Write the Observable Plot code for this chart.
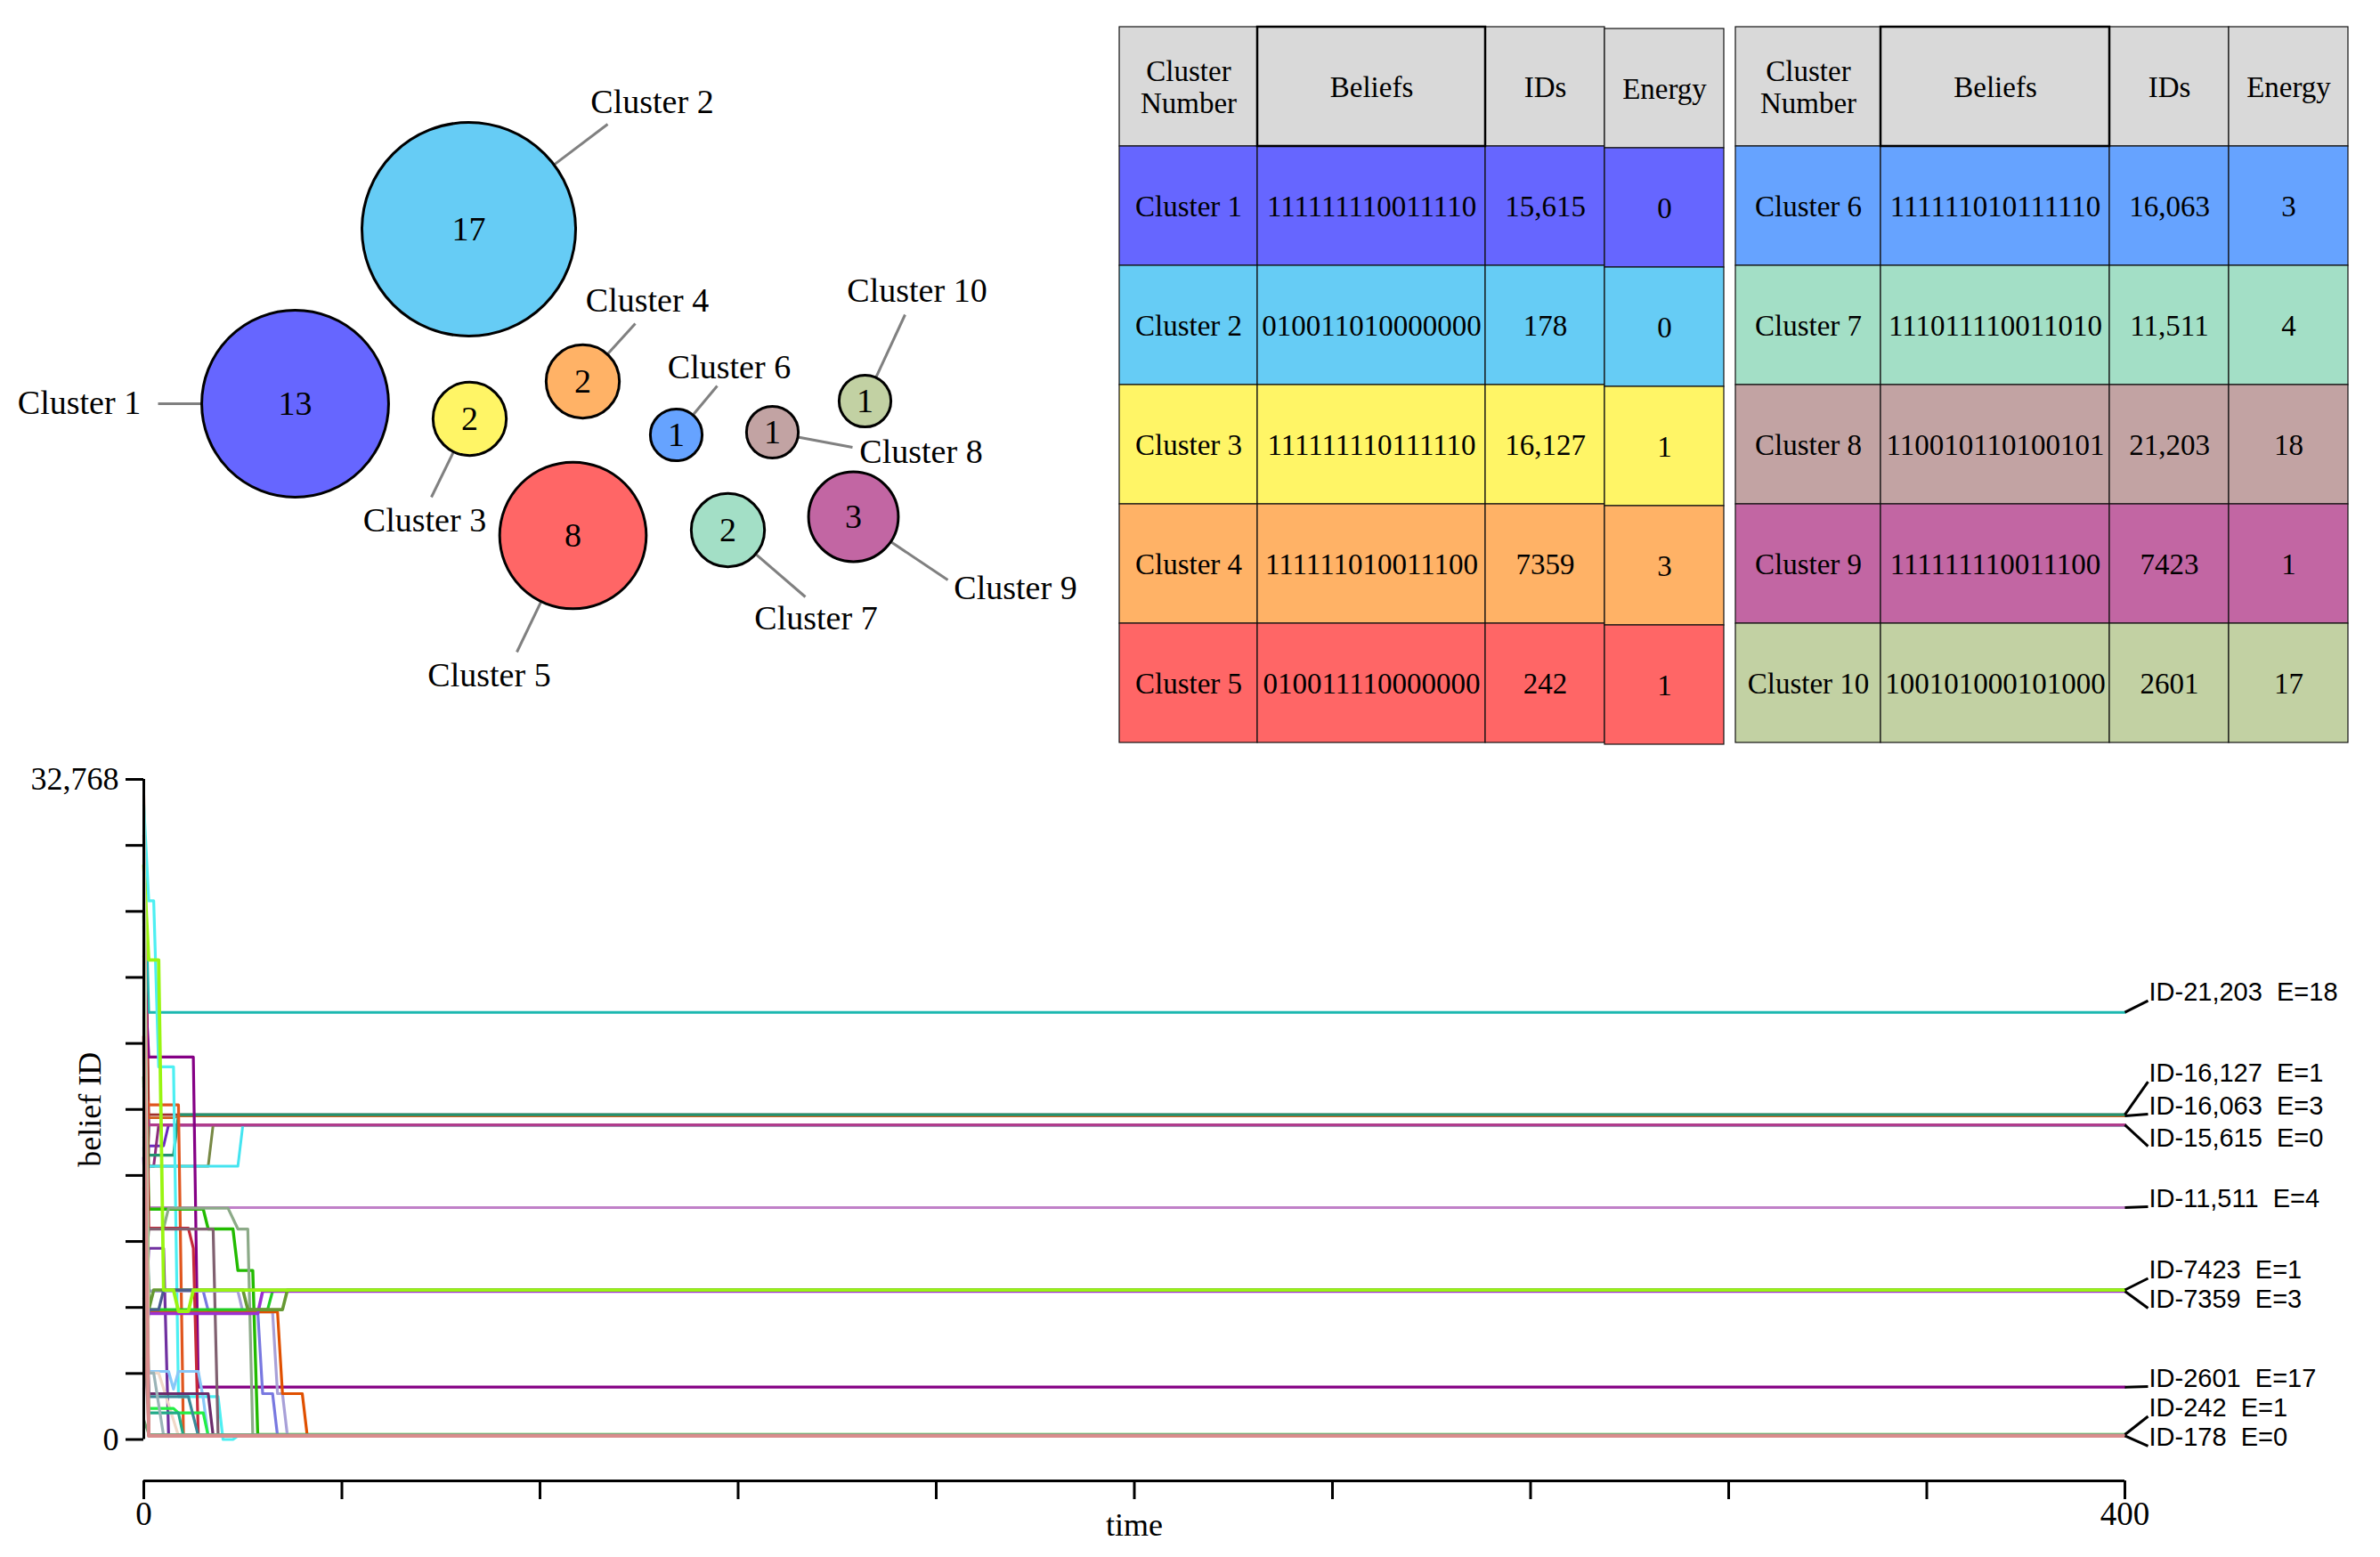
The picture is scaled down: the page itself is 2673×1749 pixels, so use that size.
<!DOCTYPE html>
<html><head><meta charset="utf-8">
<script src="https://cdn.jsdelivr.net/npm/d3@7"></script>
<script src="https://cdn.jsdelivr.net/npm/@observablehq/plot@0.6"></script>
<style>
body{margin:0;background:#fff;}
#root{position:relative;width:2673px;height:1749px;background:#fff;overflow:hidden;}
#root > svg{position:absolute;margin:0;overflow:visible;}
</style></head><body><div id="root"></div>
<script>
// ---------------- data ----------------
const clusterNames = ["Cluster 1","Cluster 2","Cluster 3","Cluster 4","Cluster 5","Cluster 6","Cluster 7","Cluster 8","Cluster 9","Cluster 10"];
const clusterSizes = [13,17,2,2,8,1,2,1,3,1];
const clusterBeliefs = ["111111110011110","010011010000000","111111110111110","111111010011100","010011110000000",
                        "111111010111110","111011110011010","110010110100101","111111110011100","100101000101000"];
const clusterIds = [15615,178,16127,7359,242,16063,11511,21203,7423,2601];
const clusterEnergy = [0,0,1,3,1,3,4,18,1,17];
const clusterColors = ["#6666FF","#66CCF5","#FFF566","#FFB266","#FF6666","#66A3FF","#A3DFC6","#C2A3A3","#C266A3","#C2D1A3"];
const headerLabels = ["Cluster\nNumber","Beliefs","IDs","Energy"];

// bubble-cloud layout: [cx, cy, leaderEndX, leaderEndY, labelX, labelY]
const bubbleLayout = [
  [331,453,177,453,88.5,452],
  [526,257,682,139,732,114],
  [527,470,484,558,476.5,584],
  [654,428,713,363,726.5,337],
  [643,601,580,732,549,758.5],
  [759,488,805,433,818.5,412.5],
  [817,595,904,670,916,694],
  [867,485,957,502,1034,507],
  [958,580,1064,651,1140,660],
  [971,450,1016,353,1029.5,326.5]
];

// belief trajectories: [time, belief ID] keypoints
const trajectories = [
  [[0,5000],[1,15615],[400,15615]],
  [[0,22000],[1,15615],[400,15615]],
  [[0,3000],[1,15615],[400,15615]],
  [[0,27000],[1,15615],[400,15615]],
  [[0,19500],[1,15615],[400,15615]],
  [[0,1500],[1,15615],[400,15615]],
  [[0,31000],[1,15615],[400,15615]],
  [[0,8000],[1,15615],[400,15615]],
  [[0,9000],[1,14575],[4,14575],[5,15615],[400,15615]],
  [[0,13000],[1,13566],[2,13566],[3,15615],[400,15615]],
  [[0,25000],[1,13566],[13,13566],[14,15615],[400,15615]],
  [[0,11000],[1,13566],[19,13566],[20,15615],[400,15615]],
  [[0,16500],[1,15615],[400,15615]],
  [[0,32300],[1,16127],[400,16127]],
  [[0,19000],[1,15966],[6,15966],[7,16063],[400,16063]],
  [[0,15000],[1,14110],[6,14110],[7,16127],[400,16127]],
  [[0,30500],[1,21203],[400,21203]],
  [[0,12500],[1,11511],[400,11511]],
  [[0,20500],[1,11511],[400,11511]],
  [[0,24000],[1,18988],[10,18988],[11,2601],[400,2601]],
  [[0,17500],[1,16607],[7,16607],[8,242],[400,242]],
  [[0,31500],[1,26740],[2,26740],[3,18500],[6,18500],[7,2130],[15,2130],[16,0],[18,0],[19,178],[400,178]],
  [[0,26000],[1,11437],[12,11437],[13,10450],[18,10450],[19,8390],[22,8390],[23,242],[400,242]],
  [[0,9000],[1,10495],[4,10495],[5,11482],[17,11482],[19,10450],[21,10450],[22,242],[400,242]],
  [[0,30000],[1,10495],[9,10495],[10,9500],[11,178],[400,178]],
  [[0,7000],[1,10450],[14,10450],[15,178],[400,178]],
  [[0,4000],[1,9490],[4,9490],[5,242],[400,242]],
  [[0,16000],[1,7360],[12,7360],[13,6400],[23,6400],[24,2275],[26,2275],[27,178],[400,178]],
  [[0,21000],[1,7360],[19,7360],[20,6330],[26,6330],[27,2275],[28,2275],[29,178],[400,178]],
  [[0,12500],[1,6330],[27,6330],[28,2275],[32,2275],[33,178],[400,178]],
  [[0,25500],[1,6445],[25,6445],[26,7359],[400,7359]],
  [[0,14000],[1,6253],[23,6253],[24,7359],[400,7359]],
  [[0,18000],[1,6445],[2,7423],[20,7423],[21,6445],[28,6445],[29,7423],[400,7423]],
  [[0,2500],[1,6445],[3,6445],[4,7423],[400,7423]],
  [[0,28500],[1,23807],[3,23807],[4,7423],[6,7423],[7,6364],[9,6364],[10,7423],[400,7423]],
  [[0,4500],[1,3380],[5,3380],[6,2500],[7,3380],[11,3380],[12,2050],[13,178],[400,178]],
  [[0,32000],[1,3300],[3,3300],[7,178],[400,178]],
  [[0,10000],[1,2275],[13,2275],[14,178],[400,178]],
  [[0,9500],[1,1540],[6,1540],[7,1320],[12,1320],[13,178],[400,178]],
  [[0,6000],[1,1320],[7,1320],[8,178],[400,178]],
  [[0,14500],[1,2130],[9,2130],[11,178],[400,178]],
  [[0,12000],[1,3300],[2,3300],[4,178],[400,178]],
  [[0,23500],[1,178],[400,178]],
  [[0,6500],[1,178],[400,178]],
  [[0,17000],[1,178],[400,178]],
  [[0,26500],[1,242],[400,242]],
  [[0,1000],[1,242],[400,242]],
  [[0,29500],[1,242],[400,242]],
  [[0,11500],[1,242],[400,242]],
  [[0,20000],[1,178],[400,178]]
];
const trajectoryColors = ["#A0307A","#9A4A9A","#7A2E6E","#C05A9A","#5D3FA0","#B84488","#994477","#3A9A8A",
  "#6A2AC0","#8B2C7C","#778844","#44E4F0","#B03C8C","#A0302A","#D0601E","#23936F","#1CB8B0","#A070B0","#C080C8",
  "#850085","#E0561E","#4DEFF2","#22BB00","#8CAA88","#C62A3A","#806070","#7030A0","#7878E0","#A8A0D8","#E05000",
  "#22CC22","#9B30D0","#669933","#4A5A90","#99F511","#88C8F8","#F0D8C8","#6B2C6B","#22EE44","#22AA88","#3A8A9A",
  "#9AB4B8","#E8A0A0","#C87878","#A0D0C0","#90B890","#70A070","#B0C8A0","#80A080","#D98C8C"];
const trajectoryWidths = [2.8,2.8,2.8,2.8,2.8,2.8,2.8,2.8,3,3,3,3,3.2,2.8,2.8,3.2,3,2.8,2.8,3.2,3.2,3.2,3.4,3.2,3.2,3.2,3.2,3.2,3.2,3.2,
  3.2,3.6,3.6,3.2,3.8,3.2,3.2,3.2,3.2,3.2,3.2,3.2,2.8,2.8,2.8,2.8,2.8,2.8,3.2,4];

// label offsets (px) of the end-of-line labels, ordered by descending ID
const labelShift = [-13,-37,-2,24,-1,-13,19,-0.6,-20.5,11.3];

const yTicks = d3.range(0, 11).map(i => i * 32768 / 10);
const xTicks = d3.range(0, 401, 40);

// ---------------- helpers ----------------
const root = document.getElementById("root");
const fmtId = v => v >= 10000 ? d3.format(",")(v) : String(v);
function place(svg, left, top) { svg.style.left = left + "px"; svg.style.top = top + "px"; root.appendChild(svg); }
const serif = "'Liberation Serif', 'DejaVu Serif', serif";

// ---------------- bubble cloud ----------------
const rScale = d3.scaleSqrt().domain([0, 17]).range([0, 120]);
const bubbles = clusterNames.map((name, i) => {
  const [cx, cy, ex, ey, lx, ly] = bubbleLayout[i];
  const r = rScale(clusterSizes[i]);
  const ang = Math.atan2(ey - cy, ex - cx);
  return {name, size: clusterSizes[i], color: clusterColors[i], cx, cy, ex, ey, lx, ly,
          sx: cx + r * Math.cos(ang), sy: cy + r * Math.sin(ang)};
});
const bubbleSvg = Plot.plot({
  width: 1250, height: 830, margin: 0,
  style: {fontFamily: serif, background: "transparent", color: "black"},
  x: {domain: [0, 1250], range: [0, 1250], axis: null},
  y: {domain: [0, 830], range: [0, 830], axis: null},
  r: {domain: [0, 17], range: [0, 120]},
  color: {type: "identity"},
  marks: [
    Plot.link(bubbles, {x1: "sx", y1: "sy", x2: "ex", y2: "ey", stroke: "#808080", strokeWidth: 3}),
    Plot.dot(bubbles, {x: "cx", y: "cy", r: "size", fill: "color", stroke: "black", strokeWidth: 3}),
    Plot.text(bubbles, {x: "cx", y: "cy", text: d => String(d.size), fontSize: 38, fill: "black"}),
    Plot.text(bubbles, {x: "lx", y: "ly", text: "name", fontSize: 38, fill: "black"})
  ]
});
place(bubbleSvg, 0, 0);

// ---------------- tables ----------------
const tableCols = [[155, 256, 134, 134], [163, 257, 134, 134]];
const tableLeft = [1257, 1949];
const rowIds = ["h", "r0", "r1", "r2", "r3", "r4"];
function makeTable(k) {
  const widths = tableCols[k];
  const starts = Array.from(d3.cumsum([0, ...widths]));
  const total = d3.sum(widths);
  const cells = [];
  headerLabels.forEach((h, c) => cells.push({row: "h", col: c, x1: starts[c], x2: starts[c + 1], fill: "#D9D9D9", text: h}));
  for (let i = 0; i < 5; i++) {
    const ci = k * 5 + i;
    [clusterNames[ci], clusterBeliefs[ci], fmtId(clusterIds[ci]), String(clusterEnergy[ci])].forEach((t, c) =>
      cells.push({row: "r" + i, col: c, x1: starts[c], x2: starts[c + 1], fill: clusterColors[ci], text: t}));
  }
  const shifted = d => k === 0 && d.col === 3;
  const main = cells.filter(d => !shifted(d)), side = cells.filter(shifted);
  const txt = {x: d => (d.x1 + d.x2) / 2, y: "row", text: "text", fontSize: 33, lineHeight: 1.1, fill: "black"};
  const bar = {x1: "x1", x2: "x2", y: "row", fill: "fill", stroke: "#111", strokeWidth: 1.2};
  return Plot.plot({
    width: total + 4, height: 810, marginLeft: 2, marginRight: 2, marginTop: 2, marginBottom: 4,
    style: {fontFamily: serif, background: "transparent", color: "black"},
    x: {domain: [0, total], axis: null},
    y: {type: "band", domain: rowIds, padding: 0, axis: null},
    color: {type: "identity"},
    marks: [
      Plot.barX(main, bar),
      Plot.barX(side, {...bar, dy: 2}),
      Plot.barX(cells.filter(d => d.row === "h" && d.col === 1), {x1: "x1", x2: "x2", y: "row", fill: "none", stroke: "black", strokeWidth: 2.5}),
      Plot.text(main, txt),
      Plot.text(side, {...txt, dy: 2})
    ]
  });
}
place(makeTable(0), tableLeft[0] - 2, 28);
place(makeTable(1), tableLeft[1] - 2, 28);

// ---------------- belief trajectories ----------------
const W = 2673, H = 930, mL = 161, mR = 287, mT = 55, zeroPx = 796.5, frameBottom = 843;
const pxPerUnit = (zeroPx - mT) / 32768;
const yMin = -(frameBottom - zeroPx) / pxPerUnit;
const pxPerT = (W - mL - mR) / 400;

const order = d3.range(10).sort((a, b) => clusterIds[b] - clusterIds[a]);
const endLabels = order.map((ci, j) => {
  const v = clusterIds[ci];
  const v2 = v - labelShift[j] / pxPerUnit;
  return {v, v2, text: "ID-" + fmtId(v) + "\u00a0\u00a0E=" + clusterEnergy[ci]};
});

const lineMarks = trajectories.map((pts, i) =>
  Plot.line(pts, {x: d => d[0], y: d => d[1], stroke: trajectoryColors[i], strokeWidth: trajectoryWidths[i]}));

const chartSvg = Plot.plot({
  width: W, height: H, marginLeft: mL, marginRight: mR, marginTop: mT, marginBottom: H - frameBottom,
  style: {fontFamily: serif, fontSize: "36px", background: "transparent", color: "black"},
  x: {domain: [0, 400]},
  y: {domain: [yMin, 32768]},
  marks: [
    ...lineMarks,
    Plot.ruleX([0], {y1: 0, y2: 32768, stroke: "black", strokeWidth: 3}),
    Plot.ruleY([yMin], {x1: 0, x2: 400, stroke: "black", strokeWidth: 3}),
    Plot.axisY({ticks: yTicks, tickSize: 20, tickPadding: 8, strokeWidth: 3, fontSize: 36, label: null,
      tickFormat: d => d === 0 ? "0" : d === 32768 ? "32,768" : ""}),
    Plot.axisX({ticks: xTicks, tickSize: 21, tickPadding: 2, strokeWidth: 3, fontSize: 37, label: null,
      tickFormat: d => d === 0 || d === 400 ? String(d) : ""}),
    Plot.text(["belief ID"], {x: 0, y: 16384, dx: -60, rotate: -90, fontSize: 36, fill: "black"}),
    Plot.text(["time"], {frameAnchor: "bottom", dy: 61, fontSize: 36, fill: "black"}),
    Plot.link(endLabels, {x1: 400, y1: "v", x2: 400 + 26 / pxPerT, y2: "v2", stroke: "black", strokeWidth: 3}),
    Plot.text(endLabels, {x: 400, y: "v2", dx: 27, text: "text", textAnchor: "start", lineAnchor: "bottom",
      fontFamily: "'Liberation Sans', Arial, sans-serif", fontSize: 29, fill: "black"})
  ]
});
place(chartSvg, 0, 820);
</script></body></html>
